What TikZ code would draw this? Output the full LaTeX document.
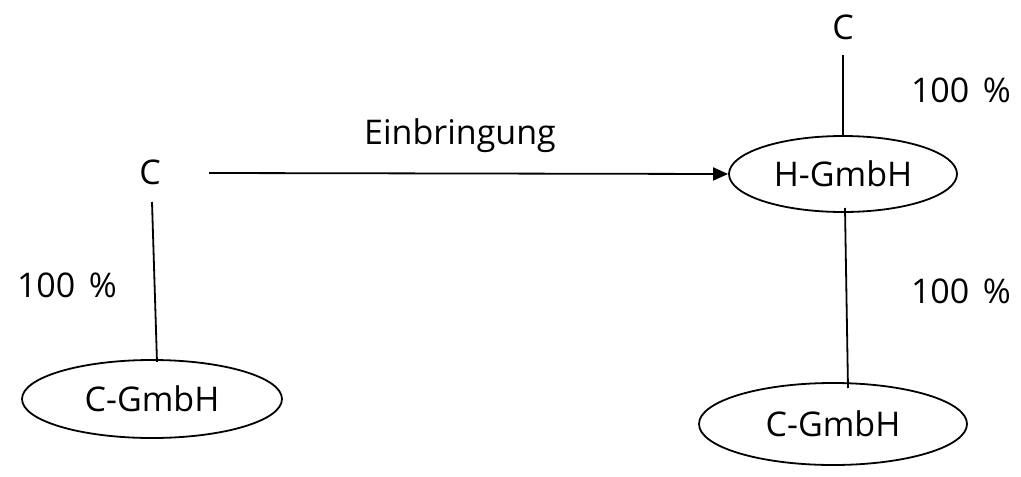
\documentclass[tikz,border=0pt]{standalone}
\usepackage{fontspec}
\setmainfont{Open Sans}
\usetikzlibrary{shapes.geometric,arrows.meta}
\tikzset{
  lbl/.style={inner sep=0pt, font=\fontsize{34}{40}\selectfont},
  org/.style={ellipse, draw, line width=1.8pt, inner sep=0pt, font=\fontsize{34}{40}\selectfont},
  conn/.style={line width=1.8pt},
}
\newcommand{\pct}{100\hspace{0.4em}\%}
\begin{document}
\begin{tikzpicture}[x=1pt,y=-1pt]
\useasboundingbox (0,0) rectangle (1021,477);
% labels
\node[lbl] (ctop) at (843,27) {C};
\node[lbl] (pct1) at (961,90) {\pct};
\node[lbl] (ein) at (460,136) {Einbringung};
\node[lbl] (cleft) at (150,172) {C};
\node[lbl] (pct2) at (67,285) {\pct};
\node[lbl] (pct3) at (961,291) {\pct};
% organisations
\node[org, minimum width=228pt, minimum height=76pt] (hg) at (843,174) {H-GmbH};
\node[org, minimum width=260pt, minimum height=78pt] (cgl) at (152,399) {C-GmbH};
\node[org, minimum width=268pt, minimum height=82pt] (cgr) at (833,424) {C-GmbH};
% connector ends
\coordinate (a1) at (843,55);
\coordinate (a2) at (209,173);
\coordinate (a3) at (152,202);
\coordinate (a6) at (157,362);
\coordinate (a4) at (845,208);
\coordinate (a5) at (848,388);
% connectors
\draw[conn] (a1) -- (hg.north);
\draw[conn, -{Triangle[length=15pt,width=13pt]}] (a2) -- (hg.west);
\draw[conn] (a3) -- (a6);
\draw[conn] (a4) -- (a5);
\end{tikzpicture}
\end{document}
